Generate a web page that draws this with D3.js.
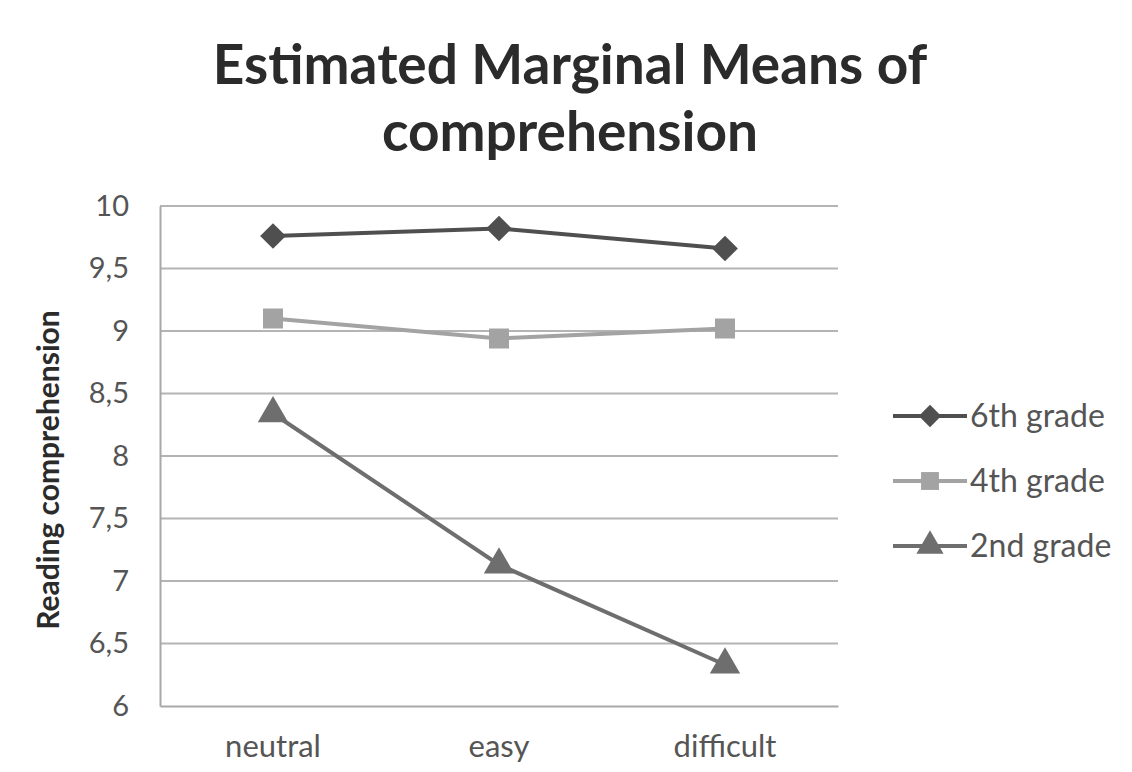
<!DOCTYPE html>
<html><head><meta charset="utf-8">
<script src="https://cdn.jsdelivr.net/npm/d3@7"></script>
<style>body{margin:0;background:#fff;} svg{display:block;}</style>
</head><body>
<svg id="c" width="1132" height="772"></svg>
<script>
const categories = ["neutral", "easy", "difficult"];
const seriesNames = ["6th grade", "4th grade", "2nd grade"];
const grade6 = [9.76, 9.82, 9.66];
const grade4 = [9.10, 8.94, 9.02];
const grade2 = [8.34, 7.13, 6.33];
const yTicks = [6, 6.5, 7, 7.5, 8, 8.5, 9, 9.5, 10];
const titleLines = ["Estimated Marginal Means of", "comprehension"];
const yTitle = "Reading comprehension";

const series = [
  {name: seriesNames[0], values: grade6, color: "#4f4f4f", shape: d3.symbolSquare, rot: 45, size: 330, lsize: 250},
  {name: seriesNames[1], values: grade4, color: "#a3a3a3", shape: d3.symbolSquare, rot: 0, size: 400, lsize: 320},
  {name: seriesNames[2], values: grade2, color: "#6e6e6e", shape: d3.symbolTriangle, rot: 0, size: 400, lsize: 320}
];

const svg = d3.select("#c");
const font = "Lato, 'Open Sans', sans-serif";
const L = 160, R = 838, T = 206, B = 706;

const x = d3.scaleBand().domain(categories).range([L, R]);
const y = d3.scaleLinear().domain([6, 10]).range([B, T]);

// title
svg.append("g").selectAll("text").data(titleLines).join("text")
  .attr("x", 570).attr("y", (d, i) => 84 + i * 67)
  .attr("text-anchor", "middle")
  .attr("font-family", font).attr("font-weight", "bold").attr("font-size", 55)
  .attr("fill", "#2b2b2b").text(d => d);

// gridlines
svg.append("g").selectAll("line").data(yTicks.filter(t => t > 6)).join("line")
  .attr("x1", L).attr("x2", R).attr("y1", d => y(d)).attr("y2", d => y(d))
  .attr("stroke", "#b4b4b4").attr("stroke-width", 2);

// axes
const yAxis = d3.axisLeft(y).tickValues(yTicks).tickSize(0).tickPadding(31)
  .tickFormat(d => String(d).replace(".", ","));
const gy = svg.append("g").attr("transform", `translate(${L},0)`).call(yAxis);
gy.select(".domain").attr("stroke", "#a8a8a8").attr("stroke-width", 2);
gy.selectAll("text").attr("font-family", font).attr("font-size", 29).attr("fill", "#555");

const xAxis = d3.axisBottom(x).tickSize(0).tickPadding(29);
const gx = svg.append("g").attr("transform", `translate(0,${B})`).call(xAxis);
gx.select(".domain").attr("stroke", "#a8a8a8").attr("stroke-width", 2);
gx.selectAll("text").attr("font-family", font).attr("font-size", 31).attr("fill", "#555");

// y title
svg.append("text").attr("transform", `translate(59,${470}) rotate(-90)`)
  .attr("text-anchor", "middle").attr("font-family", font).attr("font-weight", "bold")
  .attr("font-size", 30).attr("fill", "#2b2b2b").text(yTitle);

// lines
const line = d3.line().x((d, i) => x(categories[i]) + x.bandwidth() / 2).y(d => y(d));
series.forEach(s => {
  svg.append("path").datum(s.values).attr("d", line)
    .attr("fill", "none").attr("stroke", s.color).attr("stroke-width", 4);
  svg.append("g").selectAll("path").data(s.values).join("path")
    .attr("d", d3.symbol().type(s.shape).size(s.size))
    .attr("transform", (d, i) => `translate(${x(categories[i]) + x.bandwidth() / 2},${y(d)}) rotate(${s.rot})`)
    .attr("fill", s.color);
});

// legend
const lg = svg.append("g");
series.forEach((s, i) => {
  const ly = 416 + i * 65;
  lg.append("line").attr("x1", 893).attr("x2", 967).attr("y1", ly).attr("y2", ly)
    .attr("stroke", s.color).attr("stroke-width", 4);
  lg.append("path").attr("d", d3.symbol().type(s.shape).size(s.lsize))
    .attr("transform", `translate(930,${ly}) rotate(${s.rot})`).attr("fill", s.color);
  lg.append("text").attr("x", 970).attr("y", ly + 11).attr("font-family", font)
    .attr("font-size", 32).attr("fill", "#555").text(s.name);
});
</script>
</body></html>
